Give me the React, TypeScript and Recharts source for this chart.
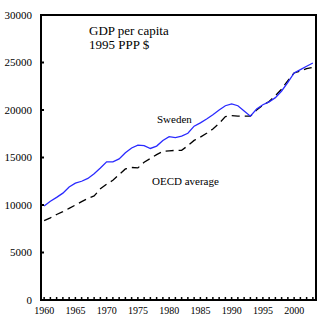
import React from "react";
import { LineChart, Line, XAxis, YAxis, ReferenceArea } from "recharts";

const years = [
  1960, 1961, 1962, 1963, 1964, 1965, 1966, 1967, 1968, 1969,
  1970, 1971, 1972, 1973, 1974, 1975, 1976, 1977, 1978, 1979,
  1980, 1981, 1982, 1983, 1984, 1985, 1986, 1987, 1988, 1989,
  1990, 1991, 1992, 1993, 1994, 1995, 1996, 1997, 1998, 1999,
  2000, 2001, 2002, 2003,
];

const sweden = [
  9900, 10400, 10800, 11250, 11900, 12300, 12500, 12800, 13300, 13900,
  14550, 14550, 14850, 15500, 16000, 16300, 16250, 15950, 16200, 16800,
  17200, 17100, 17250, 17550, 18300, 18650, 19050, 19500, 20000, 20450,
  20650, 20450, 19900, 19350, 20100, 20550, 20850, 21300, 22000, 22900,
  23900, 24250, 24600, 24950,
];

const oecd = [
  8350, 8650, 9000, 9300, 9650, 10000, 10350, 10700, 10950, 11700,
  12200, 12600, 13200, 13800, 13950, 13900, 14500, 14900, 15300, 15650,
  15700, 15750, 15750, 16250, 16800, 17150, 17550, 18000, 18600, 19300,
  19400, 19350, 19350, 19350, 20000, 20500, 20900, 21500, 22200, 23100,
  23900, 24100, 24350, 24500,
];

const yTicks = [0, 5000, 10000, 15000, 20000, 25000, 30000];

const data = years.map((year, i) => ({ year, sweden: sweden[i], oecd: oecd[i] }));

const serif = "'Liberation Serif', 'Times New Roman', serif";

const note = (left: number, top: number, size: number, text: string) => (
  <div
    style={{
      position: "absolute",
      left,
      top,
      fontFamily: serif,
      fontSize: size,
      lineHeight: `${size - 1}px`,
      color: "#000",
      whiteSpace: "nowrap",
    }}
  >
    {text}
  </div>
);

export default function App() {
  return (
    <div style={{ position: "fixed", left: 0, top: 0, width: 327, height: 325, background: "#fff" }}>
      <LineChart
        width={327}
        height={325}
        data={data}
        margin={{ top: 15, right: 11, bottom: 0, left: 0 }}
      >
        <XAxis
          dataKey="year"
          type="number"
          domain={[1959.5, 2003.5]}
          ticks={years}
          interval={0}
          tickFormatter={(v: number) => (v % 5 === 0 ? String(v) : "")}
          tickSize={-3}
          tickMargin={10}
          height={25}
          axisLine={{ stroke: "#000", strokeWidth: 2 }}
          tickLine={{ stroke: "#000", strokeWidth: 1.5 }}
          tick={{ fill: "#000", fontSize: 10, fontFamily: serif }}
        />
        <YAxis
          type="number"
          domain={[0, 30000]}
          ticks={yTicks}
          interval={0}
          width={41}
          tickSize={-3}
          tickMargin={12}
          axisLine={{ stroke: "#000", strokeWidth: 2 }}
          tickLine={{ stroke: "#000", strokeWidth: 2 }}
          tick={{ fill: "#000", fontSize: 11, fontFamily: serif }}
        />
        <ReferenceArea
          x1={1959.5}
          x2={2003.5}
          y1={0}
          y2={30000}
          fill="none"
          stroke="#000"
          strokeWidth={2}
          ifOverflow="visible"
        />
        <Line
          dataKey="oecd"
          stroke="#000"
          strokeWidth={1.3}
          strokeDasharray="8 5"
          dot={false}
          isAnimationActive={false}
        />
        <Line
          dataKey="sweden"
          stroke="#2a2aff"
          strokeWidth={1.3}
          dot={false}
          isAnimationActive={false}
        />
      </LineChart>
      {note(89, 25, 13, "GDP per capita")}
      {note(89, 39, 13, "1995 PPP $")}
      {note(157, 114, 11, "Sweden")}
      {note(152, 176, 11, "OECD average")}
    </div>
  );
}
